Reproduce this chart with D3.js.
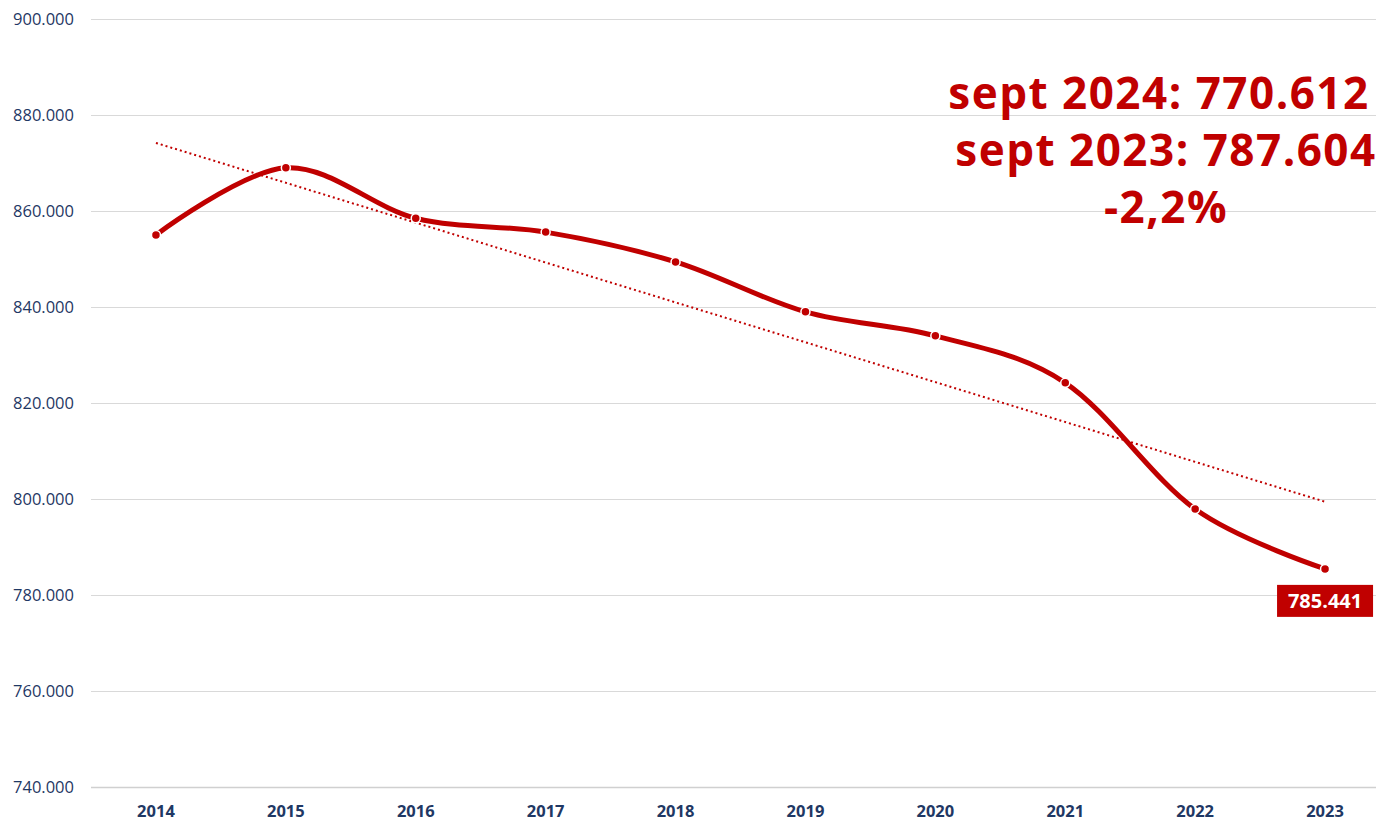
<!DOCTYPE html>
<html>
<head>
<meta charset="utf-8">
<script src="https://cdn.jsdelivr.net/npm/d3@7"></script>
<style>
  html, body { margin: 0; padding: 0; background: #fff; }
  svg { display: block; }
  svg text { font-family: "Open Sans", "Noto Sans", sans-serif; }
</style>
</head>
<body>
<svg id="chart"></svg>
<script>
// data
const years = ['2014', '2015', '2016', '2017', '2018', '2019', '2020', '2021', '2022', '2023'];
const values = [855000, 869000, 858500, 855600, 849400, 839000, 834000, 824200, 797900, 785441];
const yTicks = [740000, 760000, 780000, 800000, 820000, 840000, 860000, 880000, 900000];
const notes = ['sept 2024: 770.612', 'sept 2023: 787.604', '-2,2%'];

const width = 1376, height = 822;
const margin = { top: 19, right: -14, bottom: 35, left: 91 };

const svg = d3.select('#chart')
  .attr('width', width)
  .attr('height', height);

const red = '#c00000';
const navy = '#1f3864';

const x = d3.scaleBand()
  .domain(years)
  .range([margin.left, width - margin.right]);

const y = d3.scaleLinear()
  .domain([740000, 900000])
  .range([height - margin.bottom, margin.top]);

const fmt = v => d3.format(',')(v).replace(/,/g, '.');
const cx = d => x(d) + x.bandwidth() / 2;

// gridlines
svg.append('g')
  .selectAll('line')
  .data(yTicks)
  .join('line')
  .attr('x1', margin.left)
  .attr('x2', width)
  .attr('y1', d => Math.round(y(d)) + 0.5)
  .attr('y2', d => Math.round(y(d)) + 0.5)
  .attr('stroke', d => d === 740000 ? '#d0d0d0' : '#d9d9d9')
  .attr('stroke-width', d => d === 740000 ? 1.5 : 1);

// y axis labels
const yAxis = svg.append('g')
  .attr('transform', `translate(${margin.left - 17},0)`)
  .call(d3.axisLeft(y).tickValues(yTicks).tickFormat(fmt).tickSize(0).tickPadding(0));
yAxis.select('.domain').remove();
yAxis.attr('font-family', null);
yAxis.selectAll('text')
  .attr('fill', navy)
  .style('font-size', '16.5px')
  .attr('dy', '0.35em');

// x axis labels
const xAxis = svg.append('g')
  .attr('transform', `translate(0,${height - margin.bottom})`)
  .call(d3.axisBottom(x).tickSize(0).tickPadding(18));
xAxis.select('.domain').remove();
xAxis.attr('font-family', null);
xAxis.selectAll('text')
  .attr('fill', navy)
  .style('font-size', '16.5px')
  .style('font-weight', 'bold');

// trend line (linear regression)
const idx = years.map((d, i) => i);
const mx = d3.mean(idx), my = d3.mean(values);
const slope = d3.sum(idx, i => (i - mx) * (values[i] - my)) / d3.sum(idx, i => (i - mx) ** 2);
const icpt = my - slope * mx;
svg.append('line')
  .attr('x1', cx(years[0]))
  .attr('y1', y(icpt))
  .attr('x2', cx(years[years.length - 1]))
  .attr('y2', y(icpt + slope * (years.length - 1)))
  .attr('stroke', red)
  .attr('stroke-width', 2)
  .attr('stroke-dasharray', '2 3');

// smoothed line
const line = d3.line()
  .x((d, i) => cx(years[i]))
  .y(d => y(d))
  .curve(d3.curveCardinal.tension(0));

svg.append('path')
  .datum(values)
  .attr('d', line)
  .attr('fill', 'none')
  .attr('stroke', red)
  .attr('stroke-width', 5)
  .attr('stroke-linecap', 'round');

svg.append('g')
  .selectAll('circle')
  .data(values)
  .join('circle')
  .attr('cx', (d, i) => cx(years[i]))
  .attr('cy', d => y(d))
  .attr('r', 4.5)
  .attr('fill', red)
  .attr('stroke', '#fff')
  .attr('stroke-width', 1.5);

// last value label
const lastX = cx(years[years.length - 1]);
const lastY = y(values[values.length - 1]);
const lbl = svg.append('g').attr('transform', `translate(${lastX},${lastY + 32})`);
lbl.append('rect')
  .attr('x', -48).attr('y', -16)
  .attr('width', 96).attr('height', 32)
  .attr('fill', red);
lbl.append('text')
  .attr('text-anchor', 'middle')
  .attr('dy', '0.36em')
  .attr('fill', '#fff')
  .style('font-size', '20px')
  .style('font-weight', 'bold')
  .text(fmt(values[values.length - 1]));

// annotation
svg.append('g')
  .selectAll('text')
  .data(notes)
  .join('text')
  .attr('x', (d, i) => i === 0 ? 1159 : 1166)
  .attr('y', (d, i) => 109 + i * 57)
  .attr('text-anchor', 'middle')
  .attr('fill', red)
  .style('font-size', '44px')
  .style('font-weight', 'bold')
  .style('letter-spacing', '1.5px')
  .text(d => d);
</script>
</body>
</html>
